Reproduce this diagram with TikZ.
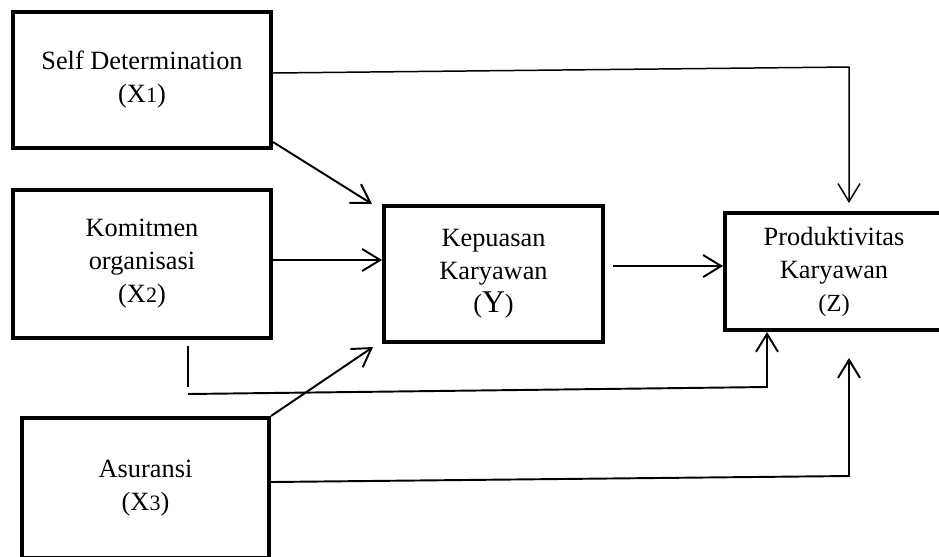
\documentclass[tikz,border=0pt]{standalone}
\usepackage{fontspec}
\setmainfont{Liberation Serif}
\usetikzlibrary{arrows.meta}

\begin{document}
\begin{tikzpicture}[x=0.02cm,y=-0.02cm,
box/.style={draw,line width=2.3pt,rectangle,align=center,inner sep=0pt,
font=\fontsize{15}{18.8}\selectfont},
link/.style={line width=1.1pt,-{Straight Barb[length=0.36cm,width=0.44cm]}}]

\useasboundingbox (0,0) rectangle (939,556);

\clip (0,0) rectangle (939,556);

\node[box,minimum width=5.16cm,minimum height=2.72cm] (x1) at (142,80)
{Self Determination\\(X{\fontsize{12.5}{12.5}\selectfont 1})};

\node[box,minimum width=5.16cm,minimum height=2.96cm] (x2) at (142,264)
{Komitmen\\organisasi\\(X{\fontsize{12.5}{12.5}\selectfont 2})};

\node[box,minimum width=4.94cm,minimum height=2.8cm] (x3) at (145.5,488)
{Asuransi\\(X{\fontsize{12.5}{12.5}\selectfont 3})};

\node[box,minimum width=4.38cm,minimum height=2.72cm] (y) at (493.5,274)
{Kepuasan\\Karyawan\\({\fontsize{18}{18}\selectfont Y})};

\node[box,minimum width=4.36cm,minimum height=2.34cm] (z) at (834,271.5)
{Produktivitas\\Karyawan\\{\fontsize{14}{14}\selectfont (Z)}};

\draw[link,line width=0.85pt] ([yshift=0.14cm]x1.east) -- (849,67) --
([xshift=0.3cm,yshift=0.16cm]z.north);

\draw[link] ([yshift=0.16cm]x1.south east) -- ([xshift=-0.2cm]y.north west);

\draw[link] ([yshift=0.08cm]x2.east) -- ([yshift=0.08cm]x2.east -| y.west);

\draw[link] ([xshift=0.16cm,yshift=0.16cm]y.east) --
([yshift=0.16cm]y.east -| z.west);

\draw[line width=1.1pt] ([xshift=0.92cm,yshift=-0.12cm]x2.south) -- ++(0,41);

\draw[link] ([xshift=0.92cm,yshift=-1.08cm]x2.south) -- (767,387) --
([xshift=-1.34cm]z.south);

\draw[link] (x3.north east) -- ([xshift=-0.18cm,yshift=-0.06cm]y.south west);

\draw[link] ([yshift=0.12cm]x3.east) -- (849,476) --
([xshift=0.3cm,yshift=-0.52cm]z.south);

\end{tikzpicture}
\end{document}
